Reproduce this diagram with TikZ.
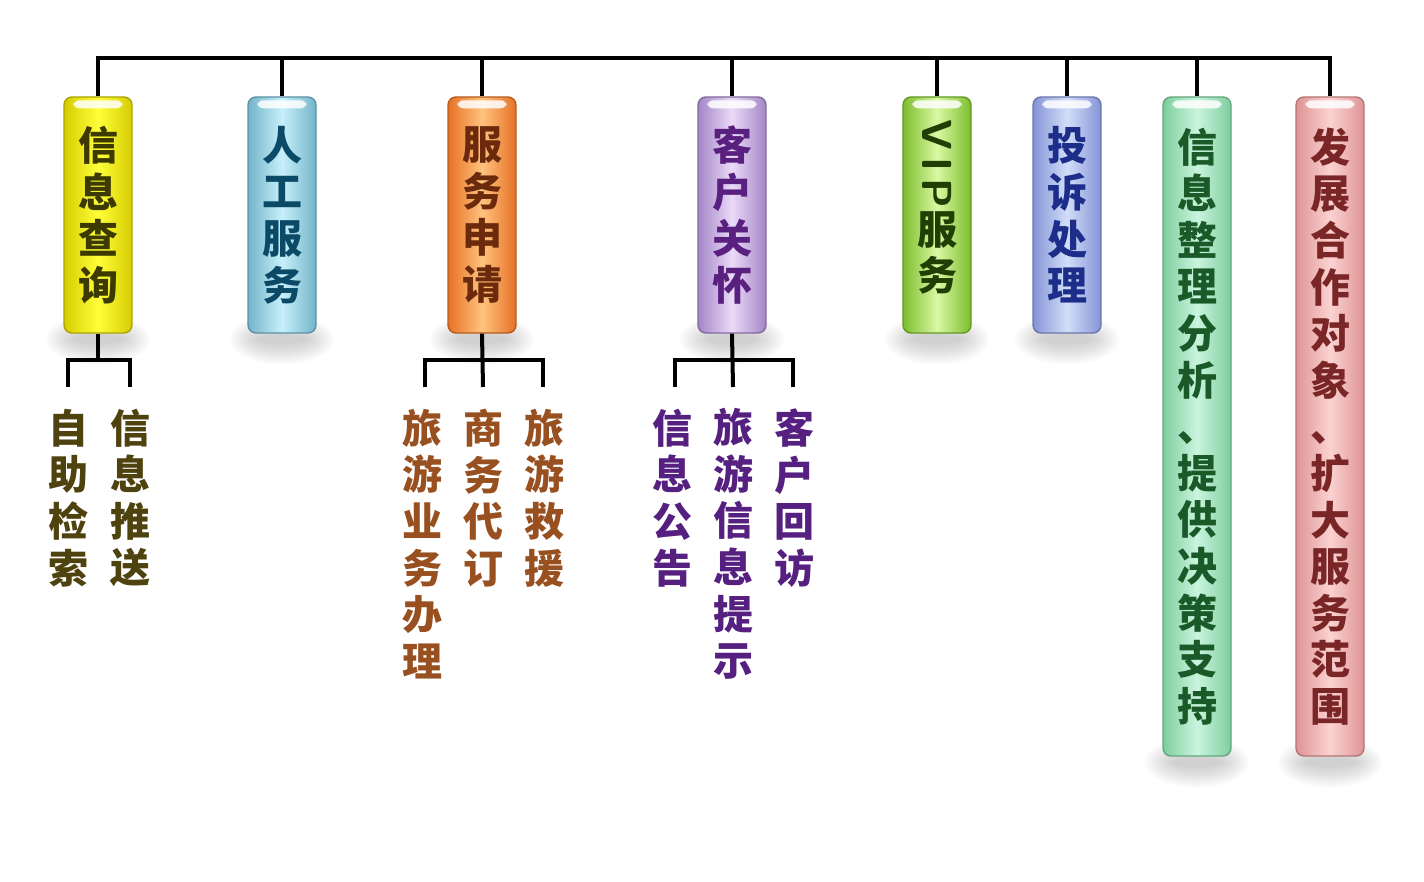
\documentclass[tikz,border=0pt]{standalone}
\usepackage{fontspec}
\newfontfamily\cjk{Noto Sans CJK SC}
\usetikzlibrary{calc}
\definecolor{e1}{HTML}{D6CC00}\definecolor{m1}{HTML}{FFFF3A}\definecolor{t1}{HTML}{3C3A00}
\definecolor{e2}{HTML}{74B4CA}\definecolor{m2}{HTML}{C6F0FA}\definecolor{t2}{HTML}{0A4A66}
\definecolor{e3}{HTML}{E67226}\definecolor{m3}{HTML}{FFC27E}\definecolor{t3}{HTML}{6B2A0C}
\definecolor{e4}{HTML}{A486C6}\definecolor{m4}{HTML}{EADAF8}\definecolor{t4}{HTML}{5A2080}
\definecolor{e5}{HTML}{7CBE2E}\definecolor{m5}{HTML}{DAF8A2}\definecolor{t5}{HTML}{1F3F05}
\definecolor{e6}{HTML}{8494D6}\definecolor{m6}{HTML}{D2DEF8}\definecolor{t6}{HTML}{1C2E8A}
\definecolor{e7}{HTML}{7ECE9E}\definecolor{m7}{HTML}{CAF4DE}\definecolor{t7}{HTML}{1A5A28}
\definecolor{e8}{HTML}{DE9494}\definecolor{m8}{HTML}{FCD2D2}\definecolor{t8}{HTML}{7A2626}
\definecolor{c1}{HTML}{4E420E}\definecolor{c3}{HTML}{985020}\definecolor{c4}{HTML}{55207F}
\tikzset{
  glass/.style args={#1/#2/#3}{draw=#1!80!black, line width=0.7pt, rounded corners=4pt,
    left color=#1, right color=#1, middle color=#2, minimum width=34pt, minimum height=#3, inner sep=0pt},
  vtxt/.style={font=\cjk\bfseries\fontsize{20}{23.3}\selectfont, align=center, inner sep=0pt},
  conn/.style={line width=2pt, line join=miter, black},
}
\newcommand{\shadowat}[1]{%
  \foreach \k in {1,...,10}{
    \fill[black, opacity=0.018] ($(#1.south)+(0,6)$) ellipse ({22+3*\k} and {3+2.2*\k});
  }}
\newcommand{\shine}[1]{%
  \fill[white, opacity=0.85, rounded corners=3pt] ($(#1.north west)+(10,4)$) rectangle ($(#1.north east)+(-10,12)$);}
\begin{document}
\begin{tikzpicture}[x=0.5pt, y=-0.5pt]
\useasboundingbox (0,0) rectangle (1424,882);
% box positions
\path (98,215) coordinate (p1) (282,215) coordinate (p2) (482,215) coordinate (p3) (732,215) coordinate (p4)
      (937,215) coordinate (p5) (1067,215) coordinate (p6) (1197,426.5) coordinate (p7) (1330,426.5) coordinate (p8);
% shadows
\foreach \i/\h in {1/236,2/236,3/236,4/236,5/236,6/236,7/659,8/659}{
  \path (p\i) node[minimum width=34pt, minimum height=\h*0.5pt, inner sep=0pt] (s\i) {};
  \shadowat{s\i}
}
% boxes
\node[glass=e1/m1/118pt] (b1) at (p1) {};
\node[glass=e2/m2/118pt] (b2) at (p2) {};
\node[glass=e3/m3/118pt] (b3) at (p3) {};
\node[glass=e4/m4/118pt] (b4) at (p4) {};
\node[glass=e5/m5/118pt] (b5) at (p5) {};
\node[glass=e6/m6/118pt] (b6) at (p6) {};
\node[glass=e7/m7/329.5pt] (b7) at (p7) {};
\node[glass=e8/m8/329.5pt] (b8) at (p8) {};
\foreach \i in {1,...,8}{\shine{b\i}}
% box texts
\node[vtxt, text=t1] (l1) at (b1) {信\\息\\查\\询};
\node[vtxt, text=t2] (l2) at (b2) {人\\工\\服\\务};
\node[vtxt, text=t3] (l3) at (b3) {服\\务\\申\\请};
\node[vtxt, text=t4] (l4) at (b4) {客\\户\\关\\怀};
\node[vtxt, text=t5, rotate=-90, font=\sffamily\bfseries\fontsize{21}{23}\selectfont] (l5a) at (937,164) {V\,I\,P};
\node[vtxt, text=t5] (l5b) at (937,253) {服\\务};
\node[vtxt, text=t6] (l6) at (b6) {投\\诉\\处\\理};
\node[vtxt, text=t7] (l7) at (b7) {信\\息\\整\\理\\分\\析\\、\\提\\供\\决\\策\\支\\持};
\node[vtxt, text=t8] (l8) at (b8) {发\\展\\合\\作\\对\\象\\、\\扩\\大\\服\\务\\范\\围};
% top bus
\coordinate (bus) at (0,58);
\draw[conn] (b1.north) -- (b1.north |- bus) -- (b8.north |- bus) -- (b8.north);
\foreach \i in {2,...,7}{\draw[conn] (b\i.north) -- (b\i.north |- bus);}
% children texts
\node[vtxt, text=c1] (c11) at (68,498) {自\\助\\检\\索};
\node[vtxt, text=c1] (c12) at (130,498) {信\\息\\推\\送};
\node[vtxt, text=c3] (c31) at (422,544) {旅\\游\\业\\务\\办\\理};
\node[vtxt, text=c3] (c32) at (483,498) {商\\务\\代\\订};
\node[vtxt, text=c3] (c33) at (544,498) {旅\\游\\救\\援};
\node[vtxt, text=c4] (c41) at (672,498) {信\\息\\公\\告};
\node[vtxt, text=c4] (c42) at (733,544) {旅\\游\\信\\息\\提\\示};
\node[vtxt, text=c4] (c43) at (794,498) {客\\户\\回\\访};
% child connectors
\coordinate (h) at (0,360);
\coordinate (k11) at (68,387); \coordinate (k12) at (130,387);
\coordinate (k31) at (425,387); \coordinate (k32) at (483,387); \coordinate (k33) at (543,387);
\coordinate (k41) at (675,387); \coordinate (k42) at (733,387); \coordinate (k43) at (793,387);
\draw[conn] (b1.south) -- (b1.south |- h);
\draw[conn] (k11) -- (k11 |- h) -- (k12 |- h) -- (k12);
\draw[conn] (b3.south) -- (k32);
\draw[conn] (k31) -- (k31 |- h) -- (k33 |- h) -- (k33);
\draw[conn] (b4.south) -- (k42);
\draw[conn] (k41) -- (k41 |- h) -- (k43 |- h) -- (k43);
\end{tikzpicture}
\end{document}
